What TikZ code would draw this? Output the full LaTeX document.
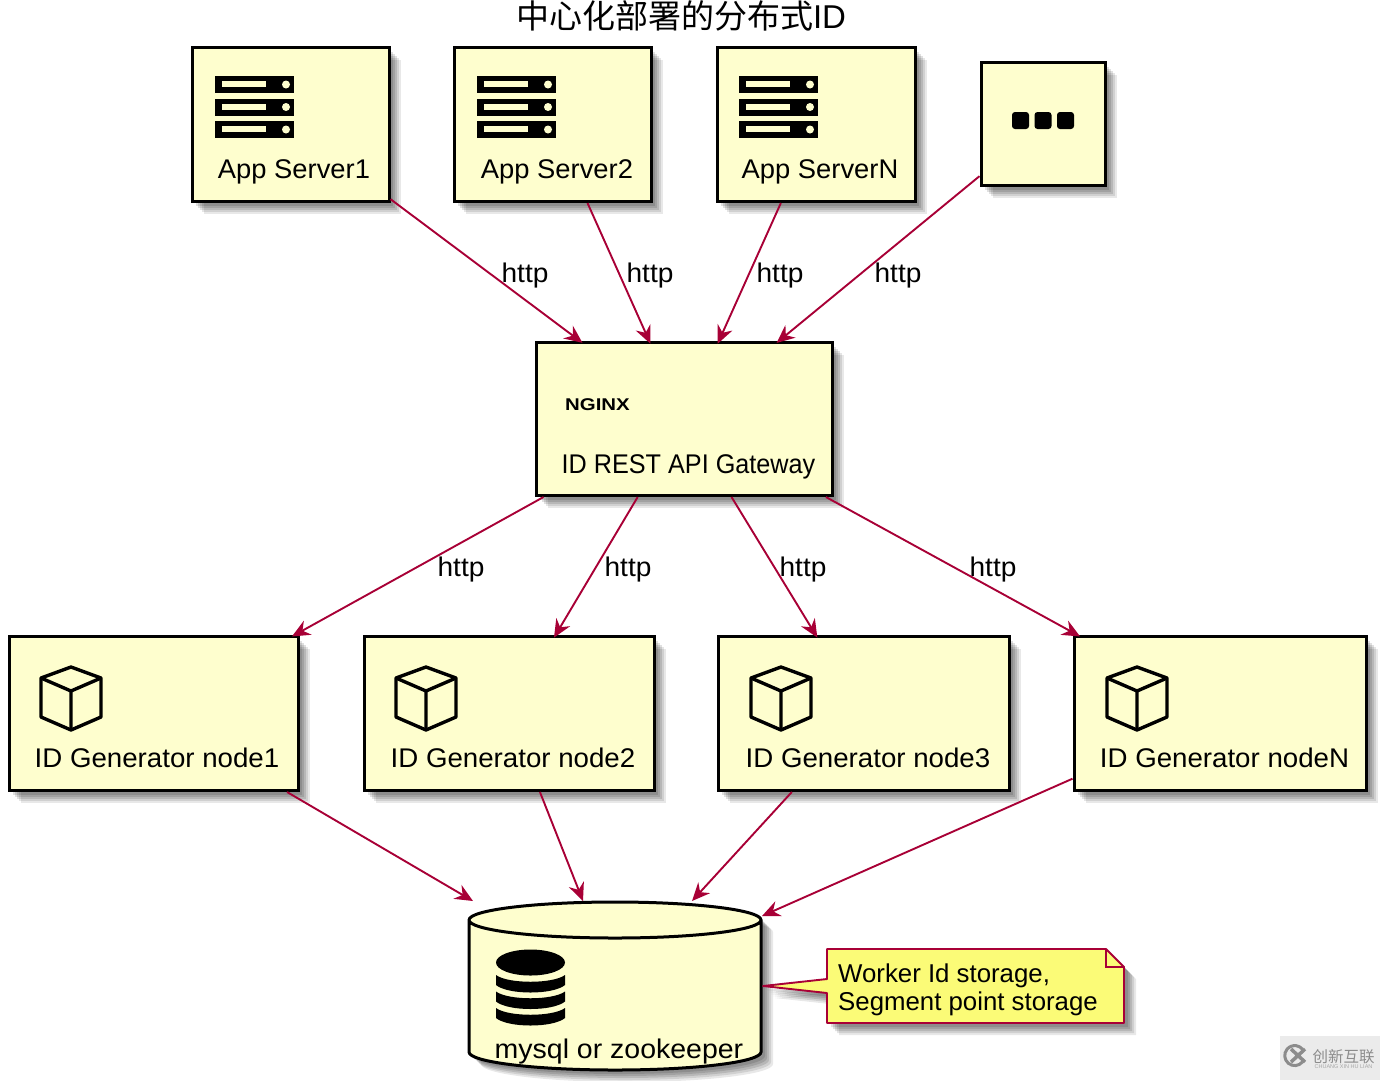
\documentclass[tikz,border=0pt]{standalone}
\usepackage{fontspec}
\setmainfont{Liberation Sans}
\newfontfamily\cjk{Noto Sans CJK SC}
\usetikzlibrary{arrows.meta,shapes.geometric}
\definecolor{boxfill}{HTML}{FEFECE}
\definecolor{notefill}{HTML}{FBFB77}
\definecolor{linkred}{HTML}{A80036}
\tikzset{>={Stealth[length=18pt,width=16pt,inset=6pt]}}
\tikzset{
    softshade/.style={
        preaction={draw=none,fill=black,fill opacity=.09,transform canvas={shift={(12pt,-12pt)}}},
        preaction={draw=none,fill=black,fill opacity=.10,transform canvas={shift={(10pt,-10pt)}}},
        preaction={draw=none,fill=black,fill opacity=.12,transform canvas={shift={(8pt,-8pt)}}},
        preaction={draw=none,fill=black,fill opacity=.12,transform canvas={shift={(6pt,-6pt)}}},
        preaction={draw=none,fill=black,fill opacity=.12,transform canvas={shift={(4pt,-4pt)}}}},
    box/.style={draw=black,fill=boxfill,line width=3pt,softshade,inner sep=0pt},
    link/.style={->,draw=linkred,line width=1.9pt,shorten >=-3pt},
    lbl/.style={anchor=base,inner sep=0pt,font=\fontsize{27}{32}\selectfont},
    proto/.style={lbl,xscale=1.04},
}
\newcommand{\servericon}[2]{%
    \foreach \row in {0,22.5,45}{
        \fill[black] (#1,#2+\row) rectangle ++(79,17);
        \fill[boxfill] (#1+7,#2+5+\row) rectangle ++(44,6);
        \fill[boxfill] (#1+71,#2+8.5+\row) circle (4);
    }
}
\newcommand{\cubeicon}[1]{%
    \draw[line width=3.4pt,line join=round] (#1-30,678) -- (#1,667) -- (#1+30,678) -- (#1+30,717)
        -- (#1,730) -- (#1-30,717) -- cycle;
    \draw[line width=3.4pt,line join=round] (#1-30,678) -- (#1,691) -- (#1+30,678) (#1,691) -- (#1,730);
}

\begin{document}
\begin{tikzpicture}[x=1pt,y=-1pt]
    \useasboundingbox (0,0) rectangle (1380,1080);

    \node[anchor=base,inner sep=0pt,font=\fontsize{33}{38}\selectfont] (title) at (681,28) {{\cjk 中心化部署的分布式}ID};

    % app servers
    \node[box,minimum width=197pt,minimum height=154pt] (s1) at (290.5,124.5) {};
    \node[box,minimum width=197pt,minimum height=154pt] (s2) at (552.5,124.5) {};
    \node[box,minimum width=198pt,minimum height=154pt] (s3) at (816,124.5) {};
    \node[box,minimum width=124pt,minimum height=123pt] (more) at (1043,124) {};

    % gateway
    \node[box,minimum width=296pt,minimum height=153pt] (gw) at (684,419) {};

    % generators
    \node[box,minimum width=289pt,minimum height=154pt] (n1) at (153.5,713.5) {};
    \node[box,minimum width=290pt,minimum height=154pt] (n2) at (509,713.5) {};
    \node[box,minimum width=291pt,minimum height=154pt] (n3) at (863.5,713.5) {};
    \node[box,minimum width=292pt,minimum height=154pt] (n4) at (1220,713.5) {};

    % storage
    \node[box,cylinder,shape border rotate=90,shape aspect=.3,inner xsep=60pt,inner ysep=60pt,minimum width=292pt,minimum height=168pt,anchor=shape center] (db) at (615,986) {};
    \coordinate (dbn1) at (473,901);
    \coordinate (dbn2) at (583,901);
    \coordinate (dbn3) at (692,901);
    \coordinate (dbn4) at (762,916);
    \coordinate (dbside) at (763,986);

    \servericon{215}{76}
    \servericon{477}{76}
    \servericon{739}{76}
    \foreach \dotx in {1012,1034.5,1057}{
        \fill[black,rounded corners=3pt] (\dotx,112) rectangle ++(17,17);
    }
    \cubeicon{71}
    \cubeicon{426}
    \cubeicon{781}
    \cubeicon{1137}

    \foreach \bandy in {975,991.5,1008}{
        \fill[black] (496,\bandy) .. controls (508,\bandy+9) and (553,\bandy+9) .. (565,\bandy)
            -- (565,\bandy+10) .. controls (553,\bandy+20) and (508,\bandy+20) .. (496,\bandy+10) -- cycle;
    }
    \fill[black] (530.5,962.5) ellipse (34.5 and 13);

    \node[inner sep=0pt,xscale=1.2,font=\bfseries\fontsize{17}{20}\selectfont] (logo) at (597.5,405) {NGINX};

    \node[lbl,xscale=1.013] (s1l) at (294,178) {App Server1};
    \node[lbl,xscale=1.013] (s2l) at (557,178) {App Server2};
    \node[lbl,xscale=1.013] (s3l) at (820,178) {App ServerN};
    \node[lbl,xscale=.934] (gwl) at (688.5,473) {ID REST API Gateway};
    \node[lbl,xscale=1.025] (n1l) at (157,767) {ID Generator node1};
    \node[lbl,xscale=1.025] (n2l) at (513,767) {ID Generator node2};
    \node[lbl,xscale=1.025] (n3l) at (868,767) {ID Generator node3};
    \node[lbl,xscale=1.025] (n4l) at (1224.5,767) {ID Generator nodeN};
    \node[lbl,xscale=1.055] (dbl) at (619,1058) {mysql or zookeeper};

    \draw[link] (s1)--(gw);
    \draw[link] (s2)--(gw);
    \draw[link] (s3)--(gw);
    \draw[link] (more)--(gw);

    \draw[link] (gw)--(n1);
    \draw[link] (gw)--(n2);
    \draw[link] (gw)--(n3);
    \draw[link] (gw)--(n4);

    \draw[link,shorten >=0pt] (n1)--(dbn1);
    \draw[link,shorten >=0pt] (n2)--(dbn2);
    \draw[link,shorten >=0pt] (n3)--(dbn3);
    \draw[link,shorten >=0pt] (n4)--(dbn4);

    \node[proto] (h1) at (525,282) {http};
    \node[proto] (h2) at (650,282) {http};
    \node[proto] (h3) at (780,282) {http};
    \node[proto] (h4) at (898,282) {http};
    \node[proto] (h5) at (461,576) {http};
    \node[proto] (h6) at (628,576) {http};
    \node[proto] (h7) at (803,576) {http};
    \node[proto] (h8) at (993,576) {http};

    % note
    \draw[draw=linkred,fill=notefill,line width=1.9pt,line join=round,softshade] (827,949) -- (1106,949) -- (1124,967)
        -- (1124,1023) -- (827,1023) -- (827,993) -- (dbside) -- (827,979) -- cycle;
    \draw[draw=linkred,line width=1.9pt] (1106,949) -- (1106,967) -- (1124,967);
    \node[anchor=west,align=left,inner sep=0pt,font=\fontsize{25.8}{28}\selectfont] (notetext) at (838,990)
        {Worker Id storage,\\Segment point storage};

    % corner mark
    \fill[black!8] (1280,1036) rectangle (1380,1080);
    \draw[black!45,line width=3pt] (1302.4,1062) arc[start angle=40,end angle=320,radius=10];
    \draw[black!45,line width=3.5pt] (1291,1049) -- (1305,1062) (1291,1062) -- (1305,1049);
    \node[inner sep=0pt,text=black!45,font=\cjk\fontsize{15.5}{17}\selectfont] (markcn) at (1343.5,1057) {创新互联};
    \node[inner sep=0pt,text=black!35,font=\fontsize{5.5}{6}\selectfont] (marken) at (1343.5,1067) {CHUANG XIN HU LIAN};
\end{tikzpicture}
\end{document}
